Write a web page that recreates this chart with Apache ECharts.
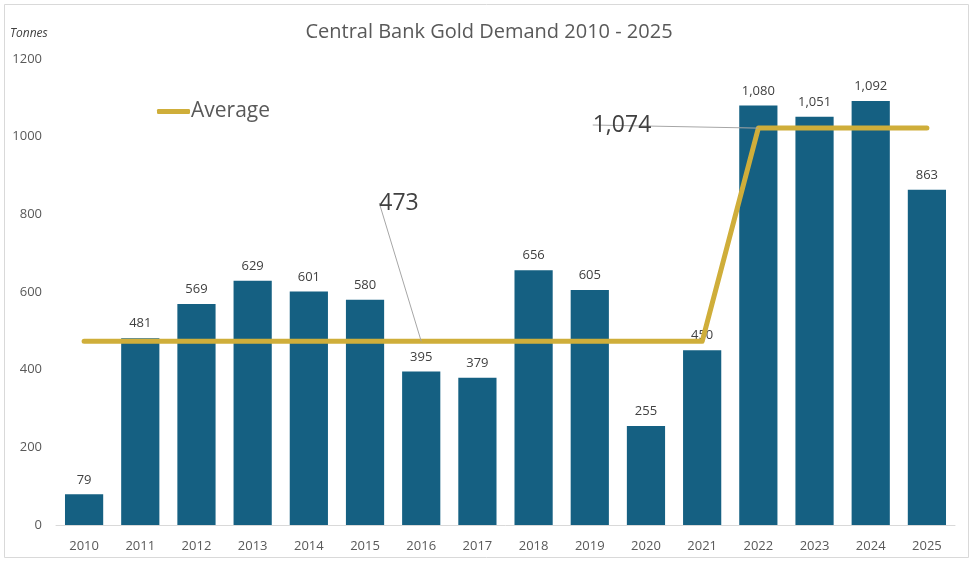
<!DOCTYPE html>
<html><head><meta charset="utf-8">
<script src="https://cdn.jsdelivr.net/npm/echarts@6/dist/echarts.min.js"></script>
<style>html,body{margin:0;padding:0;background:#fff}#c{width:978px;height:567px}</style>
</head><body><div id="c"></div>
<script>
const years = ['2010','2011','2012','2013','2014','2015','2016','2017','2018','2019','2020','2021','2022','2023','2024','2025'];
const demand = [79,481,569,629,601,580,395,379,656,605,255,450,1080,1051,1092,863];
const average = [473,473,473,473,473,473,473,473,473,473,473,473,1022,1022,1022,1022];
const avgLabels = {6:'473', 12:'1,074'};
const yTicks = [0,200,400,600,800,1000,1200];

const FONT = '"Open Sans", "Noto Sans", sans-serif';
const chart = echarts.init(document.getElementById('c'));
const labelPos = {6:{x:399,y:203}, 12:{x:622,y:125}};
chart.setOption({
  animation:false,
  textStyle:{fontFamily:FONT},
  title:{text:'Central Bank Gold Demand 2010 - 2025', left:'center', top:17,
    textStyle:{fontSize:20, fontWeight:'normal', color:'#595959', fontFamily:FONT}},
  graphic:[
    {type:'rect', shape:{x:4.5,y:4.5,width:964,height:553}, style:{fill:'none', stroke:'#d9d9d9', lineWidth:1}, silent:true},
    {type:'text', left:10, top:28, style:{text:'Tonnes', fontSize:12, fontStyle:'italic', fill:'#404040', fontFamily:FONT}}
  ],
  legend:{data:['Average'], left:152, top:96, itemWidth:33, itemHeight:5, icon:'roundRect', itemGap:0,
    textStyle:{fontSize:21, color:'#595959', padding:[0,0,0,-4]}},
  grid:{left:56, right:23, top:59, bottom:42},
  xAxis:{type:'category', data:years,
    axisLine:{lineStyle:{color:'#d9d9d9'}}, axisTick:{show:false},
    axisLabel:{fontSize:13, color:'#595959', margin:15}},
  yAxis:{type:'value', min:yTicks[0], max:yTicks[yTicks.length-1], interval:200,
    splitLine:{show:false}, axisLine:{show:false}, axisTick:{show:false},
    axisLabel:{fontSize:13, color:'#595959', margin:14, formatter:v=>String(v)}},
  series:[
    {type:'bar', name:'Demand', data:demand, barWidth:'68%', itemStyle:{color:'#156082'},
      label:{show:true, position:'top', distance:8, fontSize:13, color:'#404040',
        formatter:p=>p.value.toLocaleString('en-US')}},
    {type:'line', name:'Average', data:average.map((v,i)=> avgLabels[i] ? {value:v, label:{show:true, formatter:avgLabels[i]}} : v),
      symbol:'circle', symbolSize:0, showSymbol:true, showAllSymbol:true,
      lineStyle:{color:'#CFAE3A', width:5, cap:'round', join:'round'}, itemStyle:{color:'#CFAE3A'},
      label:{show:false, fontSize:23, color:'#404040'},
      labelLine:{show:true, lineStyle:{color:'#a6a6a6', width:1}},
      labelLayout:p=>{const q=labelPos[p.dataIndex]; return q?{x:q.x,y:q.y,align:'center',verticalAlign:'middle'}:{};},
      z:3}
  ]
});
</script></body></html>
